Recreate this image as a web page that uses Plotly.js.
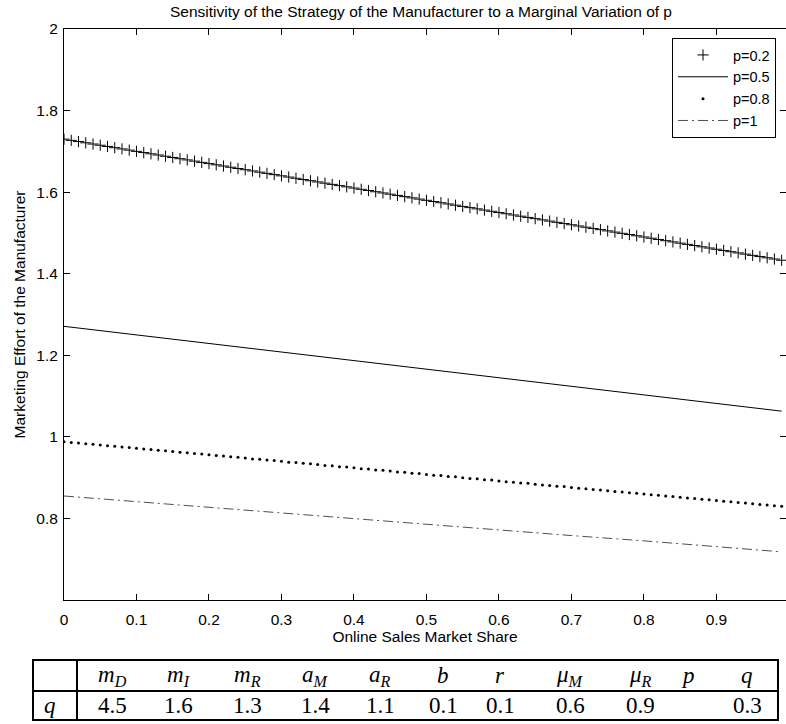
<!DOCTYPE html>
<html>
<head>
<meta charset="utf-8">
<script src="https://cdn.plot.ly/plotly-3.0.1.min.js"></script>
<style>html,body{margin:0;padding:0;background:#fff;}#chart{width:786px;height:724px;}</style>
</head>
<body>
<div id="chart"></div>
<script>
// ---- data ----
const xShare = [0,0.01,0.02,0.03,0.04,0.05,0.06,0.07,0.08,0.09,
0.10,0.11,0.12,0.13,0.14,0.15,0.16,0.17,0.18,0.19,
0.20,0.21,0.22,0.23,0.24,0.25,0.26,0.27,0.28,0.29,
0.30,0.31,0.32,0.33,0.34,0.35,0.36,0.37,0.38,0.39,
0.40,0.41,0.42,0.43,0.44,0.45,0.46,0.47,0.48,0.49,
0.50,0.51,0.52,0.53,0.54,0.55,0.56,0.57,0.58,0.59,
0.60,0.61,0.62,0.63,0.64,0.65,0.66,0.67,0.68,0.69,
0.70,0.71,0.72,0.73,0.74,0.75,0.76,0.77,0.78,0.79,
0.80,0.81,0.82,0.83,0.84,0.85,0.86,0.87,0.88,0.89,
0.90,0.91,0.92,0.93,0.94,0.95,0.96,0.97,0.98,0.99];

const effortP02 = [1.730,1.727,1.724,1.721,1.718,1.715,1.712,1.709,1.706,1.703,
1.700,1.697,1.694,1.691,1.688,1.685,1.682,1.679,1.676,1.673,
1.670,1.667,1.664,1.661,1.658,1.655,1.652,1.649,1.646,1.643,
1.640,1.637,1.634,1.631,1.628,1.625,1.622,1.619,1.616,1.613,
1.610,1.607,1.604,1.601,1.598,1.595,1.592,1.589,1.586,1.583,
1.580,1.577,1.574,1.571,1.568,1.565,1.562,1.559,1.556,1.553,
1.550,1.547,1.544,1.541,1.538,1.535,1.532,1.529,1.526,1.523,
1.520,1.517,1.514,1.511,1.508,1.505,1.502,1.499,1.496,1.493,
1.490,1.487,1.484,1.481,1.478,1.475,1.472,1.469,1.466,1.463,
1.460,1.457,1.454,1.451,1.448,1.445,1.442,1.439,1.436,1.433];

const effortP08 = [0.988,0.986,0.985,0.983,0.982,0.980,0.978,0.977,0.975,0.974,
0.972,0.970,0.969,0.967,0.966,0.964,0.962,0.961,0.959,0.958,
0.956,0.954,0.953,0.951,0.950,0.948,0.946,0.945,0.943,0.942,
0.940,0.938,0.937,0.935,0.934,0.932,0.930,0.929,0.927,0.926,
0.924,0.922,0.921,0.919,0.918,0.916,0.914,0.913,0.911,0.910,
0.908,0.906,0.905,0.903,0.902,0.900,0.898,0.897,0.895,0.894,
0.892,0.890,0.889,0.887,0.886,0.884,0.882,0.881,0.879,0.878,
0.876,0.874,0.873,0.871,0.870,0.868,0.866,0.865,0.863,0.862,
0.860,0.858,0.857,0.855,0.854,0.852,0.850,0.849,0.847,0.846,
0.844,0.842,0.841,0.839,0.838,0.836,0.834,0.833,0.831,0.830];

const xLine = [0,0.1,0.2,0.3,0.4,0.5,0.6,0.7,0.8,0.9,0.99];
const effortP05 = [1.271,1.250,1.229,1.208,1.187,1.166,1.145,1.124,1.103,1.082,1.063];
const effortP1  = [0.855,0.841,0.827,0.814,0.800,0.786,0.772,0.758,0.745,0.731,0.718];

const seriesNames = ['p=0.2','p=0.5','p=0.8','p=1'];

const xTickVals = [0,0.1,0.2,0.3,0.4,0.5,0.6,0.7,0.8,0.9];
const xTickText = ['0','0.1','0.2','0.3','0.4','0.5','0.6','0.7','0.8','0.9'];
const yTickVals = [0.8,1,1.2,1.4,1.6,1.8,2];
const yTickText = ['0.8','1','1.2','1.4','1.6','1.8','2'];

const tableHeaders = ['<i>m</i><sub><i>D</i></sub>','<i>m</i><sub><i>I</i></sub>','<i>m</i><sub><i>R</i></sub>',
  '<i>a</i><sub><i>M</i></sub>','<i>a</i><sub><i>R</i></sub>','<i>b</i>','<i>r</i>',
  '<i>μ</i><sub><i>M</i></sub>','<i>μ</i><sub><i>R</i></sub>','<i>p</i>','<i>q</i>'];
const tableRowLabel = '<i>q</i>';
const tableValues = ['4.5','1.6','1.3','1.4','1.1','0.1','0.1','0.6','0.9','','0.3'];

// ---- layout helpers (pixel -> paper) ----
const W = 786, H = 724;
const M = {l:64, r:0, t:29, b:124};
const plotW = W - M.l - M.r, plotH = H - M.t - M.b;
const px = x => (x - M.l) / plotW;
const py = y => (H - M.b - y) / plotH;

const colCenters = [112,178,247,315,380,443,500,570,640,688,747];
const tbl = {x0:33, x1:778, y0:660, ymid:691, y1:720, xdiv:77};

const font = '"Liberation Sans", Arial, Helvetica, sans-serif';
const serif = '"Liberation Serif", "Times New Roman", serif';
const FS = 15.5;

const traces = [
  {x:xShare, y:effortP02, name:seriesNames[0], mode:'markers', type:'scatter',
   marker:{symbol:'cross-thin-open', size:8, color:'#000', line:{color:'#000', width:1}}},
  {x:xLine, y:effortP05, name:seriesNames[1], mode:'lines', type:'scatter',
   line:{color:'#000', width:1}},
  {x:xShare, y:effortP08, name:seriesNames[2], mode:'markers', type:'scatter',
   marker:{symbol:'circle', size:3, color:'#000'}},
  {x:xLine, y:effortP1, name:seriesNames[3], mode:'lines', type:'scatter',
   line:{color:'#222', width:0.8, dash:'10px,4px,2px,4px'}}
];

const shapes = [];
const lineStyle = {color:'#000', width:2};
shapes.push({type:'rect', xref:'paper', yref:'paper', x0:px(tbl.x0), x1:px(tbl.x1), y0:py(tbl.y0), y1:py(tbl.y1), line:lineStyle});
shapes.push({type:'line', xref:'paper', yref:'paper', x0:px(tbl.x0), x1:px(tbl.x1), y0:py(tbl.ymid), y1:py(tbl.ymid), line:lineStyle});
shapes.push({type:'line', xref:'paper', yref:'paper', x0:px(tbl.xdiv), x1:px(tbl.xdiv), y0:py(tbl.y0), y1:py(tbl.y1), line:lineStyle});

const annotations = [];
const hdrY = (tbl.y0 + tbl.ymid) / 2, valY = (tbl.ymid + tbl.y1) / 2;
const tFont = {family:serif, size:23, color:'#000'};
tableHeaders.forEach((h, i) => {
  annotations.push({xref:'paper', yref:'paper', x:px(colCenters[i]), y:py(hdrY), text:h, showarrow:false,
    xanchor:'center', yanchor:'middle', font:tFont});
  if (tableValues[i] !== '') annotations.push({xref:'paper', yref:'paper', x:px(colCenters[i]), y:py(valY), text:tableValues[i], showarrow:false,
    xanchor:'center', yanchor:'middle', font:tFont});
});
annotations.push({xref:'paper', yref:'paper', x:px(50), y:py(valY), text:tableRowLabel, showarrow:false,
  xanchor:'center', yanchor:'middle', font:tFont});

const layout = {
  width:W, height:H, margin:M, paper_bgcolor:'#fff', plot_bgcolor:'#fff',
  font:{family:font, size:FS, color:'#000'},
  title:{text:'Sensitivity of the Strategy of the Manufacturer to a Marginal Variation of p',
    xref:'container', x:421/W, xanchor:'center', yref:'container', y:1-12/H, yanchor:'middle',
    font:{family:font, size:FS, color:'#000'}},
  xaxis:{range:[0,0.996], tickvals:xTickVals, ticktext:xTickText, ticks:'inside', ticklen:6, tickcolor:'#000',
    showline:true, linecolor:'#000', linewidth:1, mirror:'ticks', showgrid:false, zeroline:false,
    ticklabelstandoff:5,
    tickfont:{size:FS}, title:{text:'Online Sales Market Share', font:{size:FS}, standoff:2}},
  yaxis:{range:[0.6,2], tickvals:yTickVals, ticktext:yTickText, ticks:'inside', ticklen:6, tickcolor:'#000',
    showline:true, linecolor:'#000', linewidth:1, mirror:'ticks', showgrid:false, zeroline:false,
    ticklabelstandoff:2,
    tickfont:{size:FS}, title:{text:'Marketing Effort of the Manufacturer', font:{size:FS}, standoff:6}},
  showlegend:true,
  legend:{x:px(776), xanchor:'right', y:py(38), yanchor:'top', bgcolor:'#fff', bordercolor:'#000', borderwidth:1,
    font:{size:14.5}, tracegroupgap:0, itemwidth:50},
  shapes:shapes, annotations:annotations
};

Plotly.newPlot('chart', traces, layout, {displayModeBar:false, staticPlot:true});
</script>
</body>
</html>
